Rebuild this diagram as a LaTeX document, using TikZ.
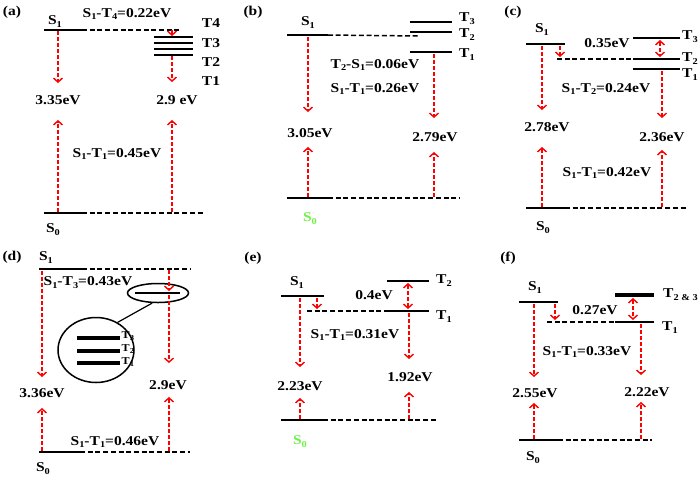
\documentclass[tikz,border=0pt]{standalone}
\usepackage{fontspec}
\setmainfont[FakeStretch=1.15]{Liberation Serif}
\usetikzlibrary{arrows.meta,shapes.geometric}
\definecolor{sgreen}{RGB}{110,240,70}
\newcommand{\dn}[1]{\raisebox{-0.22em}{\fontsize{9}{10}\selectfont\bfseries #1}}
\newcommand{\dns}[1]{\raisebox{-0.22em}{\fontsize{7.5}{8}\selectfont\bfseries #1}}
\begin{document}
\begin{tikzpicture}[x=1pt,y=-1pt,
 lvl/.style={line width=2.8pt},
 lvlt/.style={line width=3.6pt},
 lvln/.style={line width=2pt},
 dl/.style={dash pattern=on 5pt off 2.7pt, line width=1.5pt},
 ra/.style={red, dash pattern=on 4pt off 2pt, line width=1.5pt, -{Straight Barb[length=4pt,width=9pt,line width=1.4pt]}},
 rd/.style={red, dash pattern=on 4pt off 2pt, line width=1.5pt, {Straight Barb[length=4pt,width=9pt,line width=1.4pt]}-{Straight Barb[length=4pt,width=9pt,line width=1.4pt]}},
 lb/.style={font=\fontsize{13.5}{15}\selectfont\bfseries, inner sep=0pt},
 sl/.style={font=\fontsize{10.5}{12}\selectfont\bfseries, inner sep=0pt},
 ]
\useasboundingbox (0,0) rectangle (700,480);

% ---------------- (a)
\node[lb] (pa) at (12,12) {(a)};
\coordinate (aS1l) at (44,30); \coordinate (aS1r) at (82,30); \coordinate (aS1d) at (182,30);
\draw[lvl] (aS1l) -- (aS1r); \draw[dl] (aS1r) -- (aS1d);
\node[lb] (aS1) at (55,22) {S\dn{1}};
\node[lb] (aG1) at (127,14) {S\dn{1}-T\dn{4}=0.22eV};
\coordinate (aT4l) at (154,37); \coordinate (aT4r) at (193,37);
\coordinate (aT3l) at (154,43); \coordinate (aT3r) at (193,43);
\coordinate (aT2l) at (154,49); \coordinate (aT2r) at (193,49);
\coordinate (aT1l) at (154,54.5); \coordinate (aT1r) at (193,54.5);
\draw[lvln] (aT4l) -- (aT4r); \draw[lvln] (aT3l) -- (aT3r);
\draw[lvln] (aT2l) -- (aT2r); \draw[lvln] (aT1l) -- (aT1r);
\node[lb] (aT4) at (211,23) {T4};
\node[lb] (aT3) at (211,43) {T3};
\node[lb] (aT2) at (211,62) {T2};
\node[lb] (aT1) at (211,81) {T1};
\coordinate (aa1) at (172,30); \coordinate (aa2) at (172,36);
\draw[ra] (aa1) -- (aa2);
\coordinate (aL1) at (58,31); \coordinate (aL2) at (58,83);
\draw[ra] (aL1) -- (aL2);
\coordinate (aR1) at (172,56); \coordinate (aR2) at (172,82);
\draw[ra] (aR1) -- (aR2);
\node[lb] (aE1) at (58,100) {3.35eV};
\node[lb] (aE2) at (177,100) {2.9 eV};
\coordinate (aS0l) at (44,213); \coordinate (aS0r) at (82,213); \coordinate (aS0d) at (203,213);
\draw[lvl] (aS0l) -- (aS0r); \draw[dl] (aS0r) -- (aS0d);
\coordinate (aU1) at (58,212); \coordinate (aU2) at (58,120);
\draw[ra] (aU1) -- (aU2);
\coordinate (aV1) at (172,212); \coordinate (aV2) at (172,120);
\draw[ra] (aV1) -- (aV2);
\node[lb] (aG2) at (117,154) {S\dn{1}-T\dn{1}=0.45eV};
\node[lb] (aS0) at (53,230) {S\dn{0}};

% ---------------- (b)
\node[lb] (pb) at (253,12) {(b)};
\coordinate (bS1l) at (287,35); \coordinate (bS1r) at (328,35); \coordinate (bS1d) at (418,36);
\draw[lvl] (bS1l) -- (bS1r); \draw[dl] (bS1r) -- (bS1d);
\node[lb] (bS1) at (308,23) {S\dn{1}};
\coordinate (bT3l) at (410,22); \coordinate (bT3r) at (452,22);
\coordinate (bT2l) at (410,32); \coordinate (bT2r) at (452,32);
\coordinate (bT1l) at (410,52); \coordinate (bT1r) at (452,52);
\draw[lvl] (bT3l) -- (bT3r); \draw[lvl] (bT2l) -- (bT2r); \draw[lvl] (bT1l) -- (bT1r);
\node[lb,anchor=west] (bT3) at (459,19) {T\dn{3}};
\node[lb,anchor=west] (bT2) at (459,35) {T\dn{2}};
\node[lb,anchor=west] (bT1) at (459,55) {T\dn{1}};
\node[lb] (bG1) at (375,65) {T\dn{2}-S\dn{1}=0.06eV};
\node[lb] (bG2) at (375,89) {S\dn{1}-T\dn{1}=0.26eV};
\coordinate (bL1) at (308,37); \coordinate (bL2) at (308,112);
\draw[ra] (bL1) -- (bL2);
\coordinate (bR1) at (434,54); \coordinate (bR2) at (434,118);
\draw[ra] (bR1) -- (bR2);
\node[lb] (bE1) at (310,133) {3.05eV};
\node[lb] (bE2) at (435,137) {2.79eV};
\coordinate (bS0l) at (287,198); \coordinate (bS0r) at (328,198); \coordinate (bS0d) at (460,198);
\draw[lvl] (bS0l) -- (bS0r); \draw[dl] (bS0r) -- (bS0d);
\coordinate (bU1) at (308,197); \coordinate (bU2) at (308,147);
\draw[ra] (bU1) -- (bU2);
\coordinate (bV1) at (434,197); \coordinate (bV2) at (434,152);
\draw[ra] (bV1) -- (bV2);
\node[lb,text=sgreen] (bS0) at (310,219) {S\dn{0}};

% ---------------- (c)
\node[lb] (pc) at (513,12) {(c)};
\coordinate (cS1l) at (526,44); \coordinate (cS1r) at (565,44);
\draw[lvl] (cS1l) -- (cS1r);
\node[lb] (cS1) at (542,30) {S\dn{1}};
\coordinate (cdl) at (557,59); \coordinate (cT2l) at (633,59); \coordinate (cT2r) at (680,59);
\draw[dl] (cdl) -- (cT2l); \draw[lvl] (cT2l) -- (cT2r);
\coordinate (cT3l) at (633,38); \coordinate (cT3r) at (680,38);
\coordinate (cT1l) at (633,69); \coordinate (cT1r) at (680,69);
\draw[lvl] (cT3l) -- (cT3r); \draw[lvl] (cT1l) -- (cT1r);
\node[lb,anchor=west] (cT3) at (682,37) {T\dn{3}};
\node[lb,anchor=west] (cT2) at (682,59) {T\dn{2}};
\node[lb,anchor=west] (cT1) at (682,75) {T\dn{1}};
\coordinate (cs1) at (560,46); \coordinate (cs2) at (560,57);
\draw[ra] (cs1) -- (cs2);
\coordinate (cd1) at (660,40); \coordinate (cd2) at (660,57);
\draw[rd] (cd1) -- (cd2);
\node[lb] (cG0) at (607,43) {0.35eV};
\node[lb] (cG1) at (606,89) {S\dn{1}-T\dn{2}=0.24eV};
\coordinate (cL1) at (542,46); \coordinate (cL2) at (542,110);
\draw[ra] (cL1) -- (cL2);
\coordinate (cR1) at (662,71); \coordinate (cR2) at (662,118);
\draw[ra] (cR1) -- (cR2);
\node[lb] (cE1) at (547,127) {2.78eV};
\node[lb] (cE2) at (662,137) {2.36eV};
\coordinate (cS0l) at (526,208); \coordinate (cS0r) at (565,208); \coordinate (cS0d) at (688,208);
\draw[lvl] (cS0l) -- (cS0r); \draw[dl] (cS0r) -- (cS0d);
\coordinate (cU1) at (542,207); \coordinate (cU2) at (542,147);
\draw[ra] (cU1) -- (cU2);
\coordinate (cV1) at (662,207); \coordinate (cV2) at (662,150);
\draw[ra] (cV1) -- (cV2);
\node[lb] (cG2) at (607,173) {S\dn{1}-T\dn{1}=0.42eV};
\node[lb] (cS0) at (543,228) {S\dn{0}};

% ---------------- (d)
\node[lb] (pd) at (12,257) {(d)};
\coordinate (dS1l) at (39,269); \coordinate (dS1r) at (82,269); \coordinate (dS1d) at (190,269);
\draw[lvl] (dS1l) -- (dS1r); \draw[dl] (dS1r) -- (dS1d);
\node[lb] (dS1) at (46,258) {S\dn{1}};
\node[lb] (dG1) at (88,283) {S\dn{1}-T\dn{3}=0.43eV};
\node[draw, line width=1.5pt, ellipse, minimum width=61pt, minimum height=19pt, inner sep=0pt] (dsm) at (158,293) {};
\coordinate (dsl) at (135,293); \coordinate (dsr) at (180,293);
\draw[lvl] (dsl) -- (dsr);
\node[draw, line width=1.5pt, ellipse, minimum width=76pt, minimum height=65pt, inner sep=0pt] (dbg) at (96,350) {};
\draw[line width=1.2pt] (dsm.240) -- (dbg.52);
\coordinate (dT3l) at (77,338); \coordinate (dT3r) at (120,338);
\coordinate (dT2l) at (77,351); \coordinate (dT2r) at (120,351);
\coordinate (dT1l) at (77,363); \coordinate (dT1r) at (120,363);
\draw[lvlt] (dT3l) -- (dT3r); \draw[lvlt] (dT2l) -- (dT2r); \draw[lvlt] (dT1l) -- (dT1r);
\node[sl,anchor=west] (dT3) at (121.5,336) {T\dns{3}};
\node[sl,anchor=west] (dT2) at (121.5,349) {T\dns{2}};
\node[sl,anchor=west] (dT1) at (121.5,362) {T\dns{1}};
\coordinate (ds1) at (169,270); \coordinate (ds2) at (169,291);
\draw[ra] (ds1) -- (ds2);
\coordinate (dR1) at (169,295); \coordinate (dR2) at (169,363);
\draw[ra] (dR1) -- (dR2);
\coordinate (dL1) at (42,271); \coordinate (dL2) at (42,377);
\draw[ra] (dL1) -- (dL2);
\node[lb] (dE1) at (42,393) {3.36eV};
\node[lb] (dE2) at (168,385) {2.9eV};
\coordinate (dS0l) at (39,452); \coordinate (dS0r) at (80,452); \coordinate (dS0d) at (190,452);
\draw[line width=1.5pt] (dS0l) -- (dS0r); \draw[dl] (dS0r) -- (dS0d);
\coordinate (dU1) at (42,451); \coordinate (dU2) at (42,408);
\draw[ra] (dU1) -- (dU2);
\coordinate (dV1) at (169,451); \coordinate (dV2) at (169,397);
\draw[ra] (dV1) -- (dV2);
\node[lb] (dG2) at (115,442) {S\dn{1}-T\dn{1}=0.46eV};
\node[lb] (dS0) at (43,469) {S\dn{0}};

% ---------------- (e)
\node[lb] (pe) at (253,258) {(e)};
\coordinate (eS1l) at (281,296); \coordinate (eS1r) at (324,296);
\draw[lvl] (eS1l) -- (eS1r);
\node[lb] (eS1) at (297,283) {S\dn{1}};
\coordinate (edl) at (307,311); \coordinate (eT1l) at (387,311); \coordinate (eT1r) at (429,311);
\draw[dl] (edl) -- (eT1l); \draw[lvl] (eT1l) -- (eT1r);
\coordinate (eT2l) at (387,281); \coordinate (eT2r) at (429,281);
\draw[lvl] (eT2l) -- (eT2r);
\node[lb,anchor=west] (eT2) at (436,281) {T\dn{2}};
\node[lb,anchor=west] (eT1) at (436,317) {T\dn{1}};
\coordinate (es1) at (317,298); \coordinate (es2) at (317,309);
\draw[ra] (es1) -- (es2);
\coordinate (ed1) at (408,283); \coordinate (ed2) at (408,309);
\draw[rd] (ed1) -- (ed2);
\node[lb] (eG0) at (374,295) {0.4eV};
\node[lb] (eG1) at (355,335) {S\dn{1}-T\dn{1}=0.31eV};
\coordinate (eL1) at (300,298); \coordinate (eL2) at (300,367);
\draw[ra] (eL1) -- (eL2);
\coordinate (eR1) at (409,313); \coordinate (eR2) at (409,359);
\draw[ra] (eR1) -- (eR2);
\node[lb] (eE1) at (300,386) {2.23eV};
\node[lb] (eE2) at (410,377) {1.92eV};
\coordinate (eS0l) at (281,420); \coordinate (eS0r) at (323,420); \coordinate (eS0d) at (437,420);
\draw[lvl] (eS0l) -- (eS0r); \draw[dl] (eS0r) -- (eS0d);
\coordinate (eU1) at (300,419); \coordinate (eU2) at (300,398);
\draw[ra] (eU1) -- (eU2);
\coordinate (eV1) at (409,419); \coordinate (eV2) at (409,392);
\draw[ra] (eV1) -- (eV2);
\node[lb,text=sgreen] (eS0) at (300,442) {S\dn{0}};

% ---------------- (f)
\node[lb] (pf) at (508,258) {(f)};
\coordinate (fS1l) at (519,302); \coordinate (fS1r) at (558,302);
\draw[lvl] (fS1l) -- (fS1r);
\node[lb] (fS1) at (535,288) {S\dn{1}};
\coordinate (fdl) at (547,322); \coordinate (fT1l) at (615,322); \coordinate (fT1r) at (654,322);
\draw[dl] (fdl) -- (fT1l); \draw[lvl] (fT1l) -- (fT1r);
\coordinate (fT2l) at (615,295); \coordinate (fT2r) at (654,295);
\draw[lvlt] (fT2l) -- (fT2r);
\node[lb,anchor=west] (fT2) at (663,295) {T\dn{2 \& 3}};
\node[lb,anchor=west] (fT1) at (662,328) {T\dn{1}};
\coordinate (fs1) at (555,304); \coordinate (fs2) at (555,320);
\draw[ra] (fs1) -- (fs2);
\coordinate (fd1) at (633,298); \coordinate (fd2) at (633,320);
\draw[rd] (fd1) -- (fd2);
\node[lb] (fG0) at (595,310) {0.27eV};
\node[lb] (fG1) at (587,352) {S\dn{1}-T\dn{1}=0.33eV};
\coordinate (fL1) at (534,304); \coordinate (fL2) at (534,377);
\draw[ra] (fL1) -- (fL2);
\coordinate (fR1) at (641,324); \coordinate (fR2) at (641,375);
\draw[ra] (fR1) -- (fR2);
\node[lb] (fE1) at (535,393) {2.55eV};
\node[lb] (fE2) at (647,392) {2.22eV};
\coordinate (fS0l) at (519,440); \coordinate (fS0r) at (558,440); \coordinate (fS0d) at (652,440);
\draw[lvl] (fS0l) -- (fS0r); \draw[dl] (fS0r) -- (fS0d);
\coordinate (fU1) at (534,439); \coordinate (fU2) at (534,403);
\draw[ra] (fU1) -- (fU2);
\coordinate (fV1) at (641,439); \coordinate (fV2) at (641,402);
\draw[ra] (fV1) -- (fV2);
\node[lb] (fS0) at (533,458) {S\dn{0}};
\end{tikzpicture}
\end{document}
